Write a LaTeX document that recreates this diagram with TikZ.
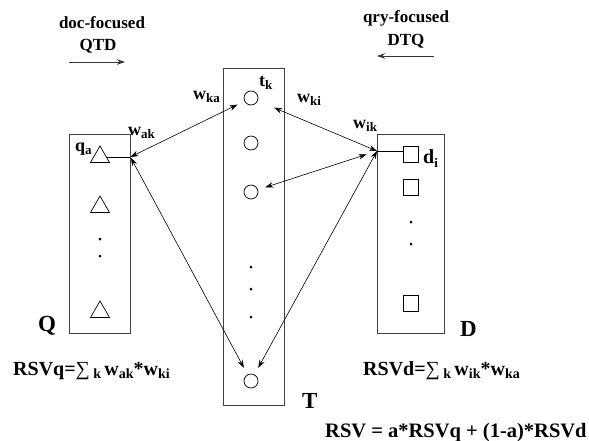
\documentclass[tikz,border=0pt]{standalone}
\usepackage{fontspec}
\setmainfont{Liberation Serif}
\usetikzlibrary{arrows.meta,shapes.geometric,calc}

\newcommand{\lowsub}[1]{\raisebox{-0.22em}{\fontsize{13}{13}\selectfont #1}}
\newcommand{\eqsub}[1]{\raisebox{-0.18em}{\fontsize{14}{14}\selectfont #1}}
\newcommand{\sumsign}{{\mdseries ∑}}

\tikzset{
  colbox/.style={draw=black!75, line width=0.9pt, inner sep=0},
  term/.style={circle, draw, line width=0.7pt, minimum size=14pt, inner sep=0, outer sep=8pt},
  qry/.style={regular polygon, regular polygon sides=3, draw, line width=0.7pt, minimum size=22pt, inner sep=0},
  doc/.style={rectangle, draw, line width=0.7pt, minimum width=15pt, minimum height=16pt, inner sep=0},
  vdot/.style={circle, fill, inner sep=0, minimum size=3pt},
  link/.style={{Stealth[length=8pt,width=5.5pt]}-{Stealth[length=8pt,width=5.5pt]}, line width=0.6pt},
  flow/.style={-{Stealth[length=8pt,width=5.5pt]}, line width=1pt, draw=black!80},
  lab/.style={font=\fontsize{18}{20}\selectfont\bfseries, inner sep=0, anchor=base west},
  big/.style={font=\fontsize{23}{25}\selectfont\bfseries, inner sep=0, anchor=base west},
  eq/.style={font=\fontsize{20}{22}\selectfont\bfseries, inner sep=0, anchor=base west},
  head/.style={font=\fontsize{17}{19}\selectfont\bfseries, inner sep=0}
}

\begin{document}
\begin{tikzpicture}[x=1pt,y=-1pt]
    \useasboundingbox (0,0) rectangle (589,440);

    % direction headings
    \node[head] (docf) at (102,23) {doc-focused};
    \node[head] (qtd) at (98,46) {QTD};
    \coordinate (qtdA) at (69,62);
    \coordinate (qtdB) at (125,62);
    \draw[flow] (qtdA) -- (qtdB);
    \node[head] (qryf) at (406,18) {qry-focused};
    \node[head] (dtq) at (406,41) {DTQ};
    \coordinate (dtqA) at (434,56);
    \coordinate (dtqB) at (377,56);
    \draw[flow] (dtqA) -- (dtqB);

    % columns
    \node[colbox, minimum width=61pt, minimum height=199pt] (Qbox) at (99.5,233.5) {};
    \node[colbox, minimum width=61pt, minimum height=337pt] (Tbox) at (253.5,236.5) {};
    \node[colbox, minimum width=67pt, minimum height=199pt] (Dbox) at (410.5,233.5) {};

    % queries
    \node[qry] (qa) at (100,157) {};
    \node[qry] (q2) at (100,207) {};
    \node[vdot] (qd1) at (100,239) {};
    \node[vdot] (qd2) at (100,256) {};
    \node[qry] (q3) at (100,312) {};

    % terms
    \node[term] (t1) at (251,98) {};
    \node[term] (t2) at (251,143) {};
    \node[term] (t3) at (251,192) {};
    \node[vdot] (td1) at (251,267) {};
    \node[vdot] (td2) at (251,289) {};
    \node[vdot] (td3) at (251,317) {};
    \node[term] (t4) at (251,381) {};

    % documents
    \node[doc] (d1) at (410.5,154) {};
    \node[doc] (d2) at (410.5,187) {};
    \node[vdot] (dd1) at (411,222) {};
    \node[vdot] (dd2) at (411,244) {};
    \node[doc] (d3) at (410.5,303.5) {};

    % ports on the column edges
    \coordinate (qport) at (qa.east -| Qbox.east);
    \coordinate (dport) at (377,151);
    \draw[line width=0.7pt] (qa.east) -- (qport);
    \draw[line width=0.7pt] (dport) -- (dport -| d1.west);

    % weights
    \draw[link] (t1) -- (qport);
    \draw[link, shorten <=1pt] (qport) -- (t4);
    \draw[link, shorten <=10pt] (t1) -- (dport);
    \draw[link, shorten >=11pt] (t3) -- (dport);
    \draw[link] (t4) -- (dport);

    % labels
    \node[lab] (wka) at (193,99) {w\lowsub{ka}};
    \node[lab] (tk) at (259,86) {t\lowsub{k}};
    \node[lab] (wki) at (297,102) {w\lowsub{ki}};
    \node[lab] (wik) at (353,128) {w\lowsub{ik}};
    \node[lab] (wak) at (128,135) {w\lowsub{ak}};
    \node[lab] (qlab) at (75,151) {q\lowsub{a}};
    \node[lab, font=\fontsize{20}{22}\selectfont\bfseries] (dlab) at (423,163) {d\lowsub{i}};

    \node[big] (Qname) at (38,331) {Q};
    \node[big] (Dname) at (460,336) {D};
    \node[big] (Tname) at (302,408) {T};

    % retrieval status values
    \node[eq] (rsvq) at (13,375) {RSVq=\sumsign\,\eqsub{k}\,w\eqsub{ak}*w\eqsub{ki}};
    \node[eq] (rsvd) at (363,375) {RSVd=\sumsign\,\eqsub{k}\,w\eqsub{ik}*w\eqsub{ka}};
    \node[eq, font=\fontsize{20.5}{22}\selectfont\bfseries] (rsv) at (325,437) {RSV = a*RSVq + (1-a)*RSVd};
\end{tikzpicture}
\end{document}
